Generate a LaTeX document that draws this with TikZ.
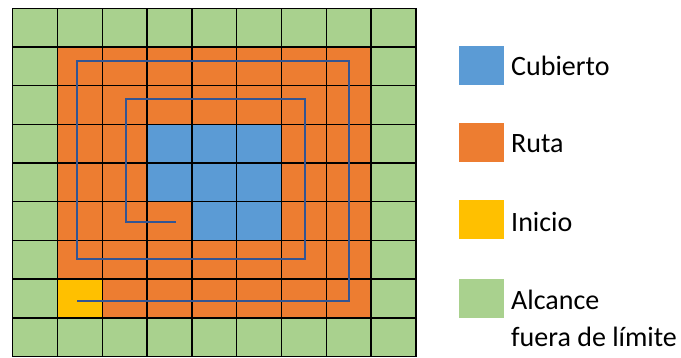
\documentclass[tikz,border=0pt]{standalone}
\usepackage{fontspec}
\setmainfont{Carlito}
\definecolor{cgreen}{HTML}{A9D18E}
\definecolor{corange}{HTML}{ED7D31}
\definecolor{cblue}{HTML}{5B9BD5}
\definecolor{cyellow}{HTML}{FFC000}
\definecolor{cpath}{HTML}{335593}
\tikzset{
  legbox/.style={minimum width=45pt, minimum height=39pt, inner sep=0pt, draw=none},
  legtext/.style={anchor=base west, font=\fontsize{28}{37}\selectfont, inner sep=0pt},
  gridline/.style={line width=1.4pt, black},
  route/.style={line width=2.2pt, cpath}
}
\begin{document}
\begin{tikzpicture}[x=1pt,y=-1pt]
\useasboundingbox (0,0) rectangle (681,358);
\begin{scope}[shift={(12.7,8.3)}, x=44.8pt, y=-38.7pt]
  \fill[cgreen] (0,0) rectangle (9,9);
  \fill[corange] (1,1) rectangle (8,8);
  \fill[cblue] (3,3) rectangle (6,5);
  \fill[cblue] (4,5) rectangle (6,6);
  \fill[cyellow] (1,7) rectangle (2,8);
  \foreach \i in {0,...,9} {
    \draw[gridline] (\i,0) -- (\i,9);
    \draw[gridline] (0,\i) -- (9,\i);
  }
  \draw[route] (1.44,7.56) -- (7.51,7.56) -- (7.51,1.36) -- (1.44,1.36)
    -- (1.44,6.47) -- (6.53,6.47) -- (6.53,2.34) -- (2.53,2.34)
    -- (2.53,5.53) -- (3.65,5.53);
\end{scope}
\node[legbox, fill=cblue] (kb) at (481.5,65.5) {};
\node[legtext] (kt) at (511,76) {Cubierto};
\node[legbox, fill=corange] (rb) at (481.5,142.5) {};
\node[legtext] (rt) at (511,152.7) {Ruta};
\node[legbox, fill=cyellow] (ib) at (481.5,220) {};
\node[legtext] (it) at (511,231.7) {Inicio};
\node[legbox, fill=cgreen] (ab) at (481.5,298.5) {};
\node[legtext] (at1) at (511,310) {Alcance};
\node[legtext] (at2) at (511,346.7) {fuera de límite};
\end{tikzpicture}
\end{document}
